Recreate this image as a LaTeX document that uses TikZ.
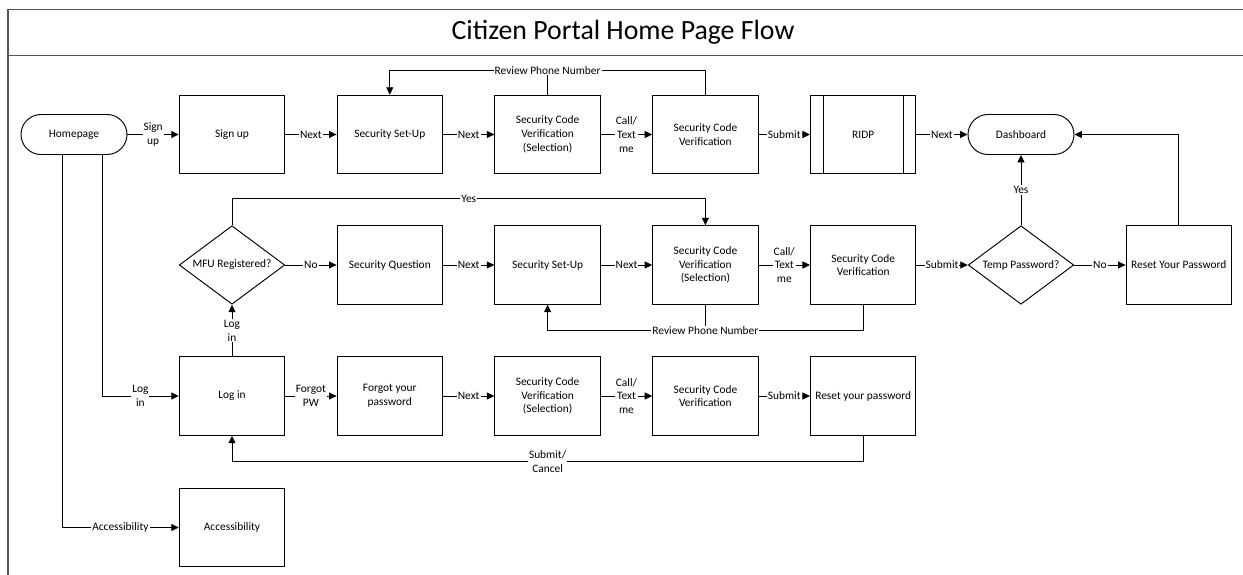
\documentclass[tikz,border=0pt]{standalone}
\usepackage{fontspec}
\setmainfont{Carlito}
\usetikzlibrary{shapes.geometric,arrows.meta,calc}
\definecolor{framegray}{RGB}{85,85,85}

\begin{document}
\begin{tikzpicture}[x=1pt,y=-1pt,
  every node/.style={font=\fontsize{11.4}{13.8}\selectfont},
  line/.style={line width=0.9pt},
  arr/.style={line, -{Triangle[length=7.5pt,width=7pt]}},
  proc/.style={draw, line width=0.95pt, rectangle, minimum width=105.5pt,
    minimum height=78.5pt, inner sep=2pt, align=center},
  term/.style={draw, line width=0.95pt, rectangle, rounded corners=20pt,
    minimum width=106pt, minimum height=40pt, align=center},
  decision/.style={draw, line width=0.95pt, diamond, minimum width=105.5pt,
    minimum height=78.5pt, inner sep=0pt},
  lbl/.style={fill=white, inner sep=1pt, align=center},
  frame/.style={line width=1.6pt, draw=framegray}]

\useasboundingbox (0,0) rectangle (1243,575);

% outer frame and title bar
\draw[frame] (1243,9.5) -- (8,9.5) -- (8,575);
\draw[frame] (8,55.5) -- (1243,55.5);
\node[font=\fontsize{27.8}{32}\selectfont] (title) at (623,32) {Citizen Portal Home Page Flow};

% column and row positions
\def\ca{232}\def\cb{389.8}\def\cc{547.6}\def\cd{705.4}\def\ce{863.2}\def\cf{1021}\def\cg{1178.8}
\def\ra{134.5}\def\rb{265}\def\rc{396}\def\rd{527.5}

% row 1: sign-up flow
\node[term] (home) at (74,\ra) {Homepage};
\node[proc] (signup) at (\ca,\ra) {Sign up};
\node[proc] (setup1) at (\cb,\ra) {Security Set-Up};
\node[proc] (scvsel1) at (\cc,\ra) {Security Code\\Verification\\(Selection)};
\node[proc] (scv1) at (\cd,\ra) {Security Code\\Verification};
\node[proc] (ridp) at (\ce,\ra) {RIDP};
\draw[line] ([xshift=13pt]ridp.north west) -- ([xshift=13pt]ridp.south west);
\draw[line] ([xshift=-13pt]ridp.north east) -- ([xshift=-13pt]ridp.south east);
\node[term] (dash) at (\cf,\ra) {Dashboard};

% row 2: log-in with MFU
\node[decision, label={center:MFU Registered?}] (mfu) at (\ca,\rb) {};
\node[proc] (secq) at (\cb,\rb) {Security Question};
\node[proc] (setup2) at (\cc,\rb) {Security Set-Up};
\node[proc] (scvsel2) at (\cd,\rb) {Security Code\\Verification\\(Selection)};
\node[proc] (scv2) at (\ce,\rb) {Security Code\\Verification};
\node[decision, label={center:Temp Password?}] (temp) at (\cf,\rb) {};
\node[proc] (resetY) at (\cg,\rb) {Reset Your Password};

% row 3: forgotten password
\node[proc] (login) at (\ca,\rc) {Log in};
\node[proc] (forgot) at (\cb,\rc) {Forgot your\\password};
\node[proc] (scvsel3) at (\cc,\rc) {Security Code\\Verification\\(Selection)};
\node[proc] (scv3) at (\cd,\rc) {Security Code\\Verification};
\node[proc] (resety) at (\ce,\rc) {Reset your password};

% row 4
\node[proc] (access) at (\ca,\rd) {Accessibility};

% row 1 connectors
\draw[arr] (home) -- node[lbl]{Sign\\up} (signup);
\draw[arr] (signup) -- node[lbl]{Next} (setup1);
\draw[arr] (setup1) -- node[lbl]{Next} (scvsel1);
\draw[arr] (scvsel1) -- node[lbl]{Call/\\Text\\me} (scv1);
\draw[arr] (scv1) -- node[lbl]{Submit} (ridp);
\draw[arr] (ridp) -- node[lbl]{Next} (dash);
\coordinate (rv1) at ($(scvsel1.north)+(0,-24.5)$);
\draw[line] (scvsel1.north) -- (rv1);
\draw[arr] (scv1.north) |- (rv1) node[lbl]{Review Phone Number} -| (setup1.north);

% row 2 connectors
\draw[arr] (mfu) -- node[lbl]{No} (secq);
\draw[arr] (secq) -- node[lbl]{Next} (setup2);
\draw[arr] (setup2) -- node[lbl]{Next} (scvsel2);
\draw[arr] (scvsel2) -- node[lbl]{Call/\\Text\\me} (scv2);
\draw[arr] (scv2) -- node[lbl]{Submit} (temp);
\draw[arr] (temp) -- node[lbl]{No} (resetY);
\draw[arr] (mfu.north) -- ++(0,-26.7) -| node[lbl,pos=0.25]{Yes} (scvsel2.north);
\draw[arr] (temp.north) -- node[lbl]{Yes} (dash.south);
\draw[arr] (resetY.north) |- (dash.east);
\coordinate (rv2) at ($(scvsel2.south)+(0,26)$);
\draw[line] (scvsel2.south) -- (rv2);
\draw[arr] (scv2.south) |- (rv2) node[lbl]{Review Phone Number} -| (setup2.south);

% row 3 connectors
\draw[arr] (login) -- node[lbl]{Log\\in} (mfu);
\draw[arr] (login) -- node[lbl]{Forgot\\PW} (forgot);
\draw[arr] (forgot) -- node[lbl]{Next} (scvsel3);
\draw[arr] (scvsel3) -- node[lbl]{Call/\\Text\\me} (scv3);
\draw[arr] (scv3) -- node[lbl]{Submit} (resety);
\draw[arr] (resety.south) -- ++(0,26) -| node[lbl,pos=0.25]{Submit/\\Cancel} (login.south);

% branches from the home page
\draw[arr] ([xshift=28pt]home.south) |- node[lbl,pos=0.75]{Log\\in} (login.west);
\draw[arr] ([xshift=-12pt]home.south) |- node[lbl,pos=0.75]{Accessibility} (access.west);
\end{tikzpicture}
\end{document}
